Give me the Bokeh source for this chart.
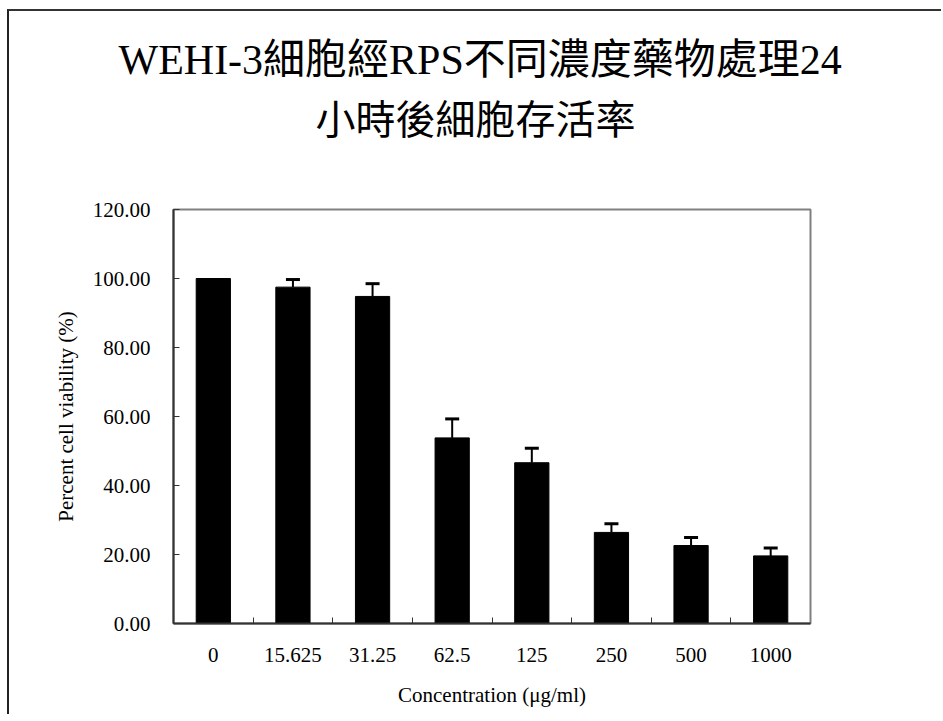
from bokeh.plotting import figure
from bokeh.models import (Range1d, FixedTicker, NumeralTickFormatter, Whisker,
                          TeeHead, ColumnDataSource, Title)
from bokeh.embed import file_html
from bokeh.resources import INLINE

# ---- data ----
concentrations = ["0", "15.625", "31.25", "62.5", "125", "250", "500", "1000"]
viability = [100.0, 97.5, 94.8, 53.8, 46.6, 26.4, 22.6, 19.6]
sd = [0.0, 2.2, 3.7, 5.5, 4.2, 2.5, 2.3, 2.3]
y_ticks = [0, 20, 40, 60, 80, 100, 120]
title_line1 = "WEHI-3細胞經RPS不同濃度藥物處理24"
title_line2 = "小時後細胞存活率"
x_title = "Concentration (μg/ml)"
y_title = "Percent cell viability (%)"

n = len(concentrations)
centers = [i + 0.5 for i in range(n)]
bounds = [i for i in range(1, n)]

bar_src = ColumnDataSource(dict(x=centers, top=viability))
err_idx = [i for i in range(n) if sd[i] > 0]
err_src = ColumnDataSource(dict(
    x=[centers[i] for i in err_idx],
    lower=[viability[i] for i in err_idx],
    upper=[viability[i] + sd[i] for i in err_idx],
))

SERIF = "Liberation Serif"
CJK = "'Liberation Serif', 'Noto Sans CJK TC'"

p = figure(width=934, height=705,
           x_range=Range1d(0, n), y_range=Range1d(0, 120),
           output_backend="svg", toolbar_location=None,
           min_border_left=164, min_border_right=133,
           min_border_top=198, min_border_bottom=93)

p.background_fill_color = "white"
p.border_fill_color = "white"
p.outline_line_color = "#808080"
p.outline_line_width = 2
p.grid.visible = False
p.styles = {"margin-top": "9px", "margin-left": "7px",
            "border-top": "2px solid #333333", "border-left": "2px solid #222222"}

# bars
p.vbar(x="x", top="top", width=0.43, bottom=0, source=bar_src,
       fill_color="black", line_color="black")

# error bars (upper only)
p.add_layout(Whisker(base="x", lower="lower", upper="upper", source=err_src,
                     dimension="height", line_color="black", line_width=2,
                     lower_head=None,
                     upper_head=TeeHead(size=14, line_color="black", line_width=3)))

# x axis: labels at category centres, ticks between categories
xa = p.xaxis[0]
xa.ticker = FixedTicker(ticks=centers, minor_ticks=bounds)
xa.major_label_overrides = {c: lab for c, lab in zip(centers, concentrations)}
xa.major_tick_in = 0
xa.major_tick_out = 0
xa.minor_tick_in = 6
xa.minor_tick_out = 0
xa.minor_tick_line_color = "#333333"
xa.axis_line_color = "#333333"
xa.axis_line_width = 2
xa.major_label_text_font = SERIF
xa.major_label_text_font_size = "21px"
xa.major_label_text_color = "black"
xa.major_label_standoff = 24
xa.axis_label = x_title
xa.axis_label_text_font = SERIF
xa.axis_label_text_font_size = "21px"
xa.axis_label_text_font_style = "normal"
xa.axis_label_text_color = "black"
xa.axis_label_standoff = 18

# y axis
ya = p.yaxis[0]
ya.ticker = FixedTicker(ticks=y_ticks)
ya.formatter = NumeralTickFormatter(format="0.00")
ya.major_tick_in = 6
ya.major_tick_out = 0
ya.minor_tick_in = 0
ya.minor_tick_out = 0
ya.major_tick_line_color = "#333333"
ya.axis_line_color = "#333333"
ya.axis_line_width = 2
ya.major_label_text_font = SERIF
ya.major_label_text_font_size = "21px"
ya.major_label_text_color = "black"
ya.major_label_standoff = 23
ya.axis_label = y_title
ya.axis_label_text_font = SERIF
ya.axis_label_text_font_size = "21px"
ya.axis_label_text_font_style = "normal"
ya.axis_label_text_color = "black"
ya.axis_label_standoff = 12

# spacer between frame and title, then two title lines (inner first)
t0 = Title(text="\u00a0", text_font_size="1px", standoff=64, text_color="white")
t2 = Title(text=title_line2, align="left", offset=142, standoff=0,
           text_font=CJK, text_font_size="40px", text_font_style="normal",
           text_color="black")
t1 = Title(text=title_line1, align="left", offset=-55, standoff=26,
           text_font=CJK, text_font_size="42px", text_font_style="normal",
           text_color="black")
p.add_layout(t0, "above")
p.add_layout(t2, "above")
p.add_layout(t1, "above")

open("out.html", "w").write(file_html(p, INLINE))
